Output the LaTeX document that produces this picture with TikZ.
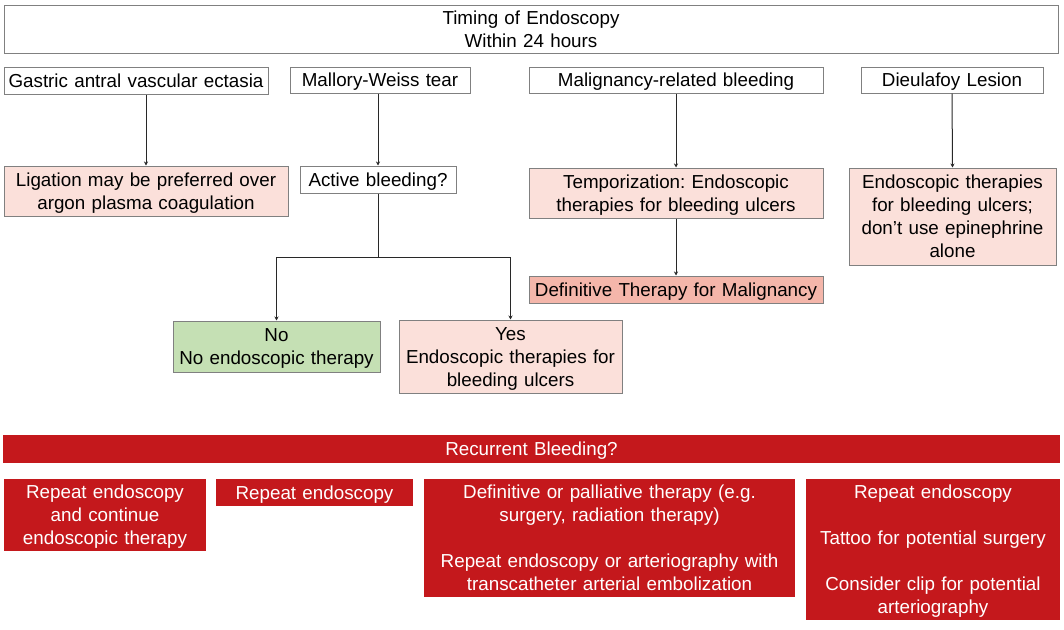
\documentclass[tikz,border=0pt]{standalone}
\usepackage{fontspec}
\setmainfont{Liberation Sans}
\usetikzlibrary{arrows.meta,calc}
\definecolor{bordergray}{RGB}{128,128,128}
\definecolor{pinkfill}{RGB}{251,224,218}
\definecolor{salmonfill}{RGB}{244,182,170}
\definecolor{greenfill}{RGB}{197,224,180}
\definecolor{redfill}{RGB}{196,24,28}
\definecolor{arrowgray}{RGB}{40,40,40}
\newcommand\mytopstrut{\rule{0pt}{13.6pt}}
\newcommand\mybotstrut{\rule[-3.65pt]{0pt}{0pt}}
\frenchspacing
\tikzset{
  rect/.style n args={4}{at={({(#1+#3)/2},{(#2+#4)/2})},
    minimum width={(#3-#1)*0.75pt}, minimum height={(#4-#2)*0.75pt},
    text width={(#3-#1)*0.75pt-1pt}},
  base/.style={inner sep=0pt, align=center, font=\fontsize{14.1}{17.25}\selectfont\frenchspacing,
    execute at begin node=\mytopstrut, execute at end node=\mybotstrut},
  wbox/.style={base, draw=bordergray, line width=0.75pt, fill=white},
  pbox/.style={base, draw=bordergray, line width=0.75pt, fill=pinkfill},
  sbox/.style={base, draw=bordergray, line width=0.75pt, fill=salmonfill},
  gbox/.style={base, draw=bordergray, line width=0.75pt, fill=greenfill},
  rbox/.style={base, fill=redfill, text=white},
  arr/.style={draw=arrowgray, line width=0.75pt, -{Stealth[length=3pt,width=3pt]}},
  ln/.style={draw=arrowgray, line width=0.75pt}
}
\begin{document}
\begin{tikzpicture}[x=0.75pt,y=-0.75pt]
\useasboundingbox (0,0) rectangle (1064,629);
\node[wbox, rect={4}{5}{1058}{53}] (top) {Timing of Endoscopy\\Within 24 hours};
\node[wbox, rect={4}{67}{268}{94}] (gav) {Gastric antral vascular ectasia};
\node[wbox, rect={290}{67}{470}{93}] (mw) {Mallory-Weiss tear};
\node[wbox, rect={529}{67}{823}{93}] (mal) {Malignancy-related bleeding};
\node[wbox, rect={861}{67}{1043}{93}] (dl) {Dieulafoy Lesion};
\node[pbox, rect={4}{166}{288}{216}] (lig) {Ligation may be preferred over\\argon plasma coagulation};
\node[wbox, rect={300}{166}{456}{193}] (act) {Active bleeding?};
\node[pbox, rect={529}{168}{823}{218}] (temp) {Temporization: Endoscopic\\therapies for bleeding ulcers};
\node[pbox, rect={849}{168}{1056}{265}] (endo) {Endoscopic therapies\\for bleeding ulcers;\\don’t use epinephrine\\alone};
\node[sbox, rect={529}{276}{823}{303}] (def) {Definitive Therapy for Malignancy};
\node[gbox, rect={173}{321}{380}{372}] (no) {No\\No endoscopic therapy};
\node[pbox, rect={399}{320}{622}{393}] (yes) {Yes\\Endoscopic therapies for\\bleeding ulcers};
\node[rbox, rect={3}{435}{1060}{463}] (rec) {Recurrent Bleeding?};
\node[rbox, rect={4}{479}{206}{551}] (r1) {Repeat endoscopy\\and continue\\endoscopic therapy};
\node[rbox, rect={216}{479}{413}{506}] (r2) {Repeat endoscopy};
\node[rbox, rect={424}{479}{795}{597}] (r3) {Definitive or palliative therapy (e.g.\\surgery, radiation therapy)\\[17.25pt]Repeat endoscopy or arteriography with\\transcatheter arterial embolization};
\node[rbox, rect={806}{479}{1060}{620}] (r4) {Repeat endoscopy\\[17.25pt]Tattoo for potential surgery\\[17.25pt]Consider clip for potential\\arteriography};
% connectors
\draw[arr] (lig.north |- gav.south) -- (lig.north);
\draw[arr] (act.north |- mw.south) -- (act.north);
\draw[arr] (mal.south) -- (temp.north);
\draw[arr] (temp.south) -- (def.north);
\draw[arr] (dl.south) -- (endo.north);
\coordinate (split) at ($(act.south)+(0,64)$);
\draw[ln] (act.south) -- (split);
\draw[arr] (split) -| (no.north);
\draw[arr] (split) -| (yes.north);
\end{tikzpicture}
\end{document}
